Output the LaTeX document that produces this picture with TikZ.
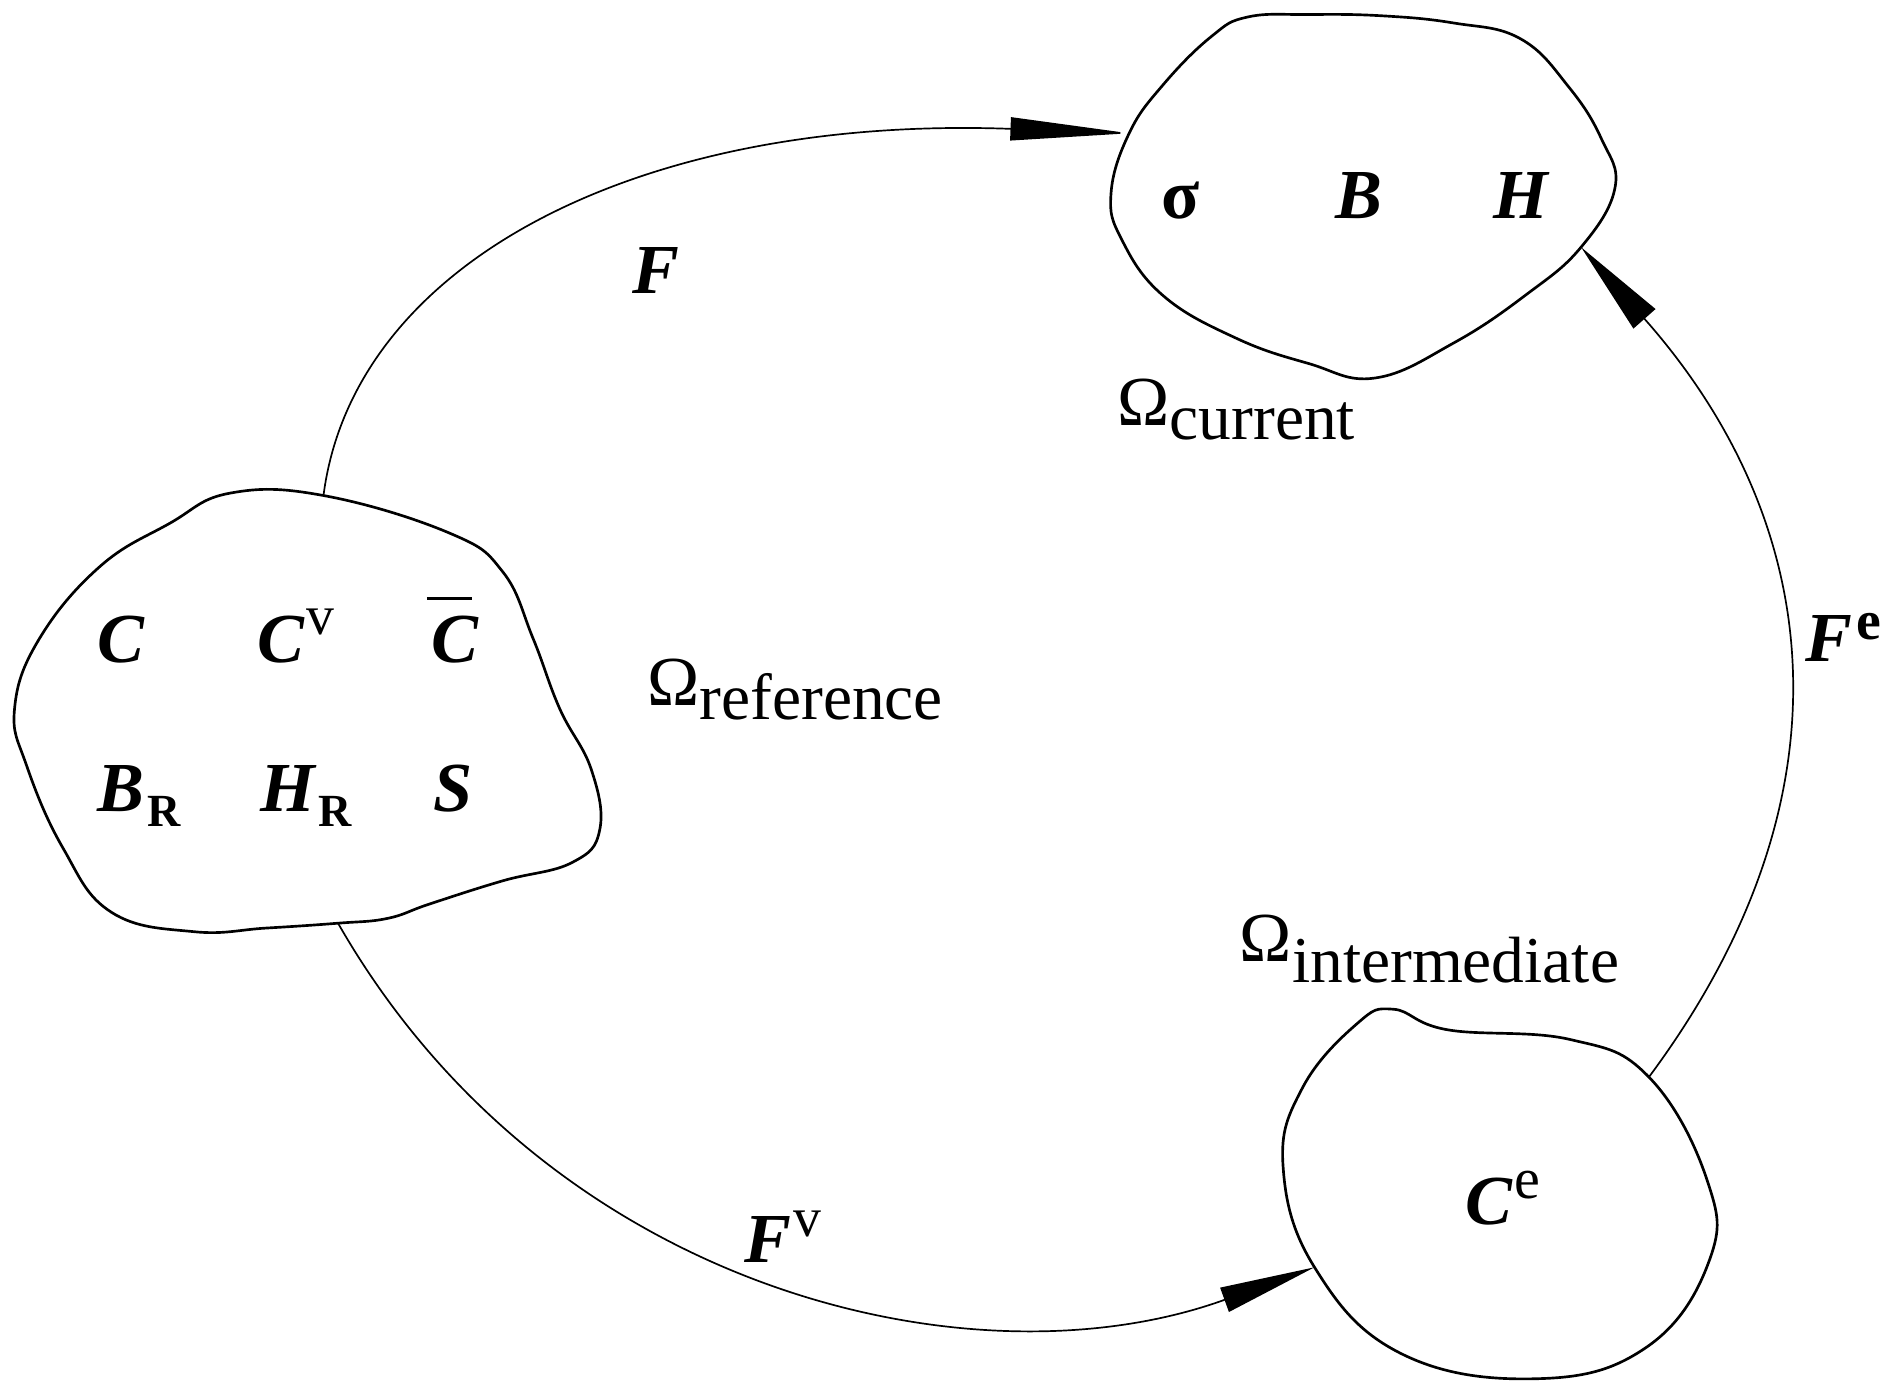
\documentclass[tikz,border=0pt]{standalone}
\usepackage{fontspec}
\setmainfont{Liberation Serif}
\usetikzlibrary{arrows.meta}
\begin{document}
\begin{tikzpicture}[x=0.5pt,y=-0.5pt,
  blob/.style={line width=1.1pt, line join=round},
  conn/.style={line width=0.7pt},
  sym/.style={inner sep=0pt, anchor=base west, font=\fontsize{29}{30}\selectfont\bfseries\itshape},
  omega/.style={inner sep=0pt, anchor=base west, font=\fontsize{29}{30}\selectfont}]
\useasboundingbox (0,0) rectangle (1560,1140.7);

% attach points on the outlines
\coordinate (refTop) at (267,409);
\coordinate (refBot) at (279,762);
\coordinate (curL) at (932,110);
\coordinate (curR) at (1305,204);
\coordinate (intL) at (1085,1046);
\coordinate (intTR) at (1361,889);

% reference configuration
\draw[blob] plot[smooth cycle, tension=0.7] coordinates {
 (190,407) (267,409) (371,440) (415,472) (440,527) (462,585) (488,635)
 (495,685) (472,712) (415,727) (355,746) (320,758) (279,762) (220,766)
 (160,769) (92,753) (52,700) (22,632) (12,585) (32,528) (82,468) (140,432)};

% current configuration
\draw[blob] plot[smooth cycle, tension=0.7] coordinates {
 (1030,14) (1080,12) (1140,13) (1200,19) (1255,32) (1295,72) (1322,115)
 (1333,155) (1305,204) (1260,243) (1200,283) (1135,312) (1080,300)
 (1020,279) (960,244) (926,198) (917,160) (932,110) (960,70) (1000,30)};

% intermediate configuration
\draw[blob] plot[smooth cycle, tension=0.7] coordinates {
 (1120,845) (1150,833) (1195,850) (1296,858) (1361,889) (1409,974)
 (1411,1040) (1359,1112) (1268,1138) (1156,1117) (1085,1046) (1059,962)
 (1075,898)};

% connectors
\draw[conn, -{Triangle[length=49pt,width=9.5pt]}] (refTop) .. controls (292,215) and (530,95) .. (curL);
\draw[conn, -{Triangle[length=39.5pt,width=10.5pt]}] (refBot) .. controls (453,1066) and (803,1148) .. (intL);
\draw[conn, -{Triangle[length=39.5pt,width=12pt]}] (intTR) .. controls (1535,655) and (1505,430) .. (curR);

% symbols in the reference configuration
\node[sym] (tC) at (80,547) {C};
\node[sym] (tCv) at (212,547) {C\hspace{1pt}\raisebox{11.5pt}{\fontsize{23}{23}\selectfont\mdseries\upshape v}};
\node[sym] (tCbar) at (356,547) {\rlap{\hspace{-2pt}\raisebox{25.7pt}{\rule{18.5pt}{1.5pt}}}C};
\node[sym] (tBR) at (80,670) {B\hspace{1.5pt}\raisebox{-6pt}{\fontsize{19}{19}\selectfont\upshape R}};
\node[sym] (tHR) at (215,670) {H\hspace{1pt}\raisebox{-6pt}{\fontsize{19}{19}\selectfont\upshape R}};
\node[sym] (tS) at (357,670) {S};

% symbols in the current configuration
\node[sym] (tsig) at (958,180) {\upshape σ};
\node[sym] (tB) at (1102,180) {B};
\node[sym] (tH) at (1232,180) {H};

% symbol in the intermediate configuration
\node[sym] (tCe) at (1209,1011) {C\hspace{1pt}\raisebox{11pt}{\fontsize{24}{24}\selectfont\mdseries\upshape e}};

% connector labels
\node[sym] (lF) at (522,242) {F};
\node[sym] (lFv) at (614,1042) {F\hspace{1pt}\raisebox{10.5pt}{\fontsize{23}{23}\selectfont\mdseries\upshape v}};
\node[sym] (lFe) at (1490,546) {F\hspace{1.5pt}\raisebox{9pt}{\fontsize{23}{23}\selectfont\upshape e}};

% configuration names
\node[omega] (oCur) at (922,351) {Ω\raisebox{-6pt}{\fontsize{27}{27}\selectfont current}};
\node[omega] (oRef) at (534,582) {Ω\raisebox{-6pt}{\fontsize{27}{27}\selectfont reference}};
\node[omega] (oInt) at (1023,794) {Ω\raisebox{-8.5pt}{\fontsize{27}{27}\selectfont intermediate}};
\end{tikzpicture}
\end{document}
